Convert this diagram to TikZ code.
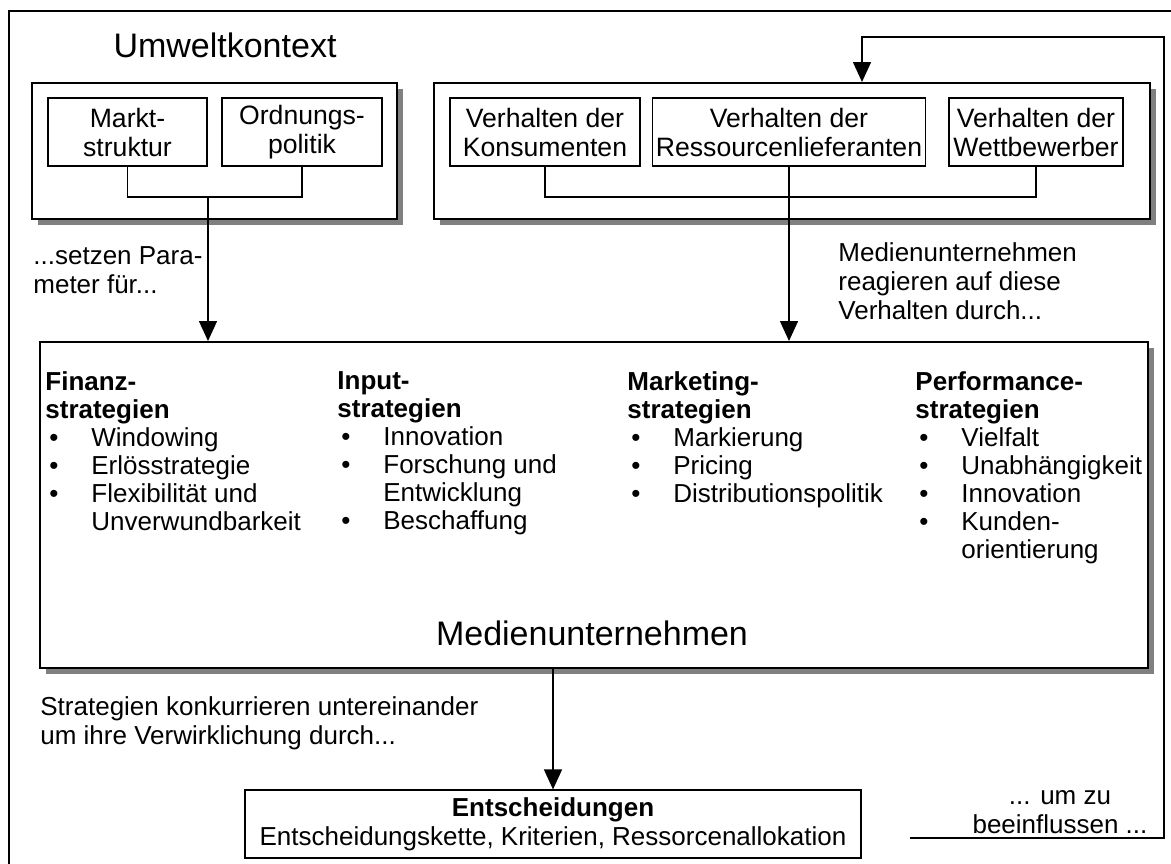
\documentclass[tikz,border=0pt]{standalone}
\usepackage{fontspec}
\setmainfont{Liberation Sans}
\usetikzlibrary{positioning, arrows.meta, shadows}

\newcommand{\bul}{\makebox[23pt][l]{\hspace{2pt}\textbullet}}
\newcommand{\ind}{\hspace*{23pt}}

\begin{document}
\begin{tikzpicture}[
x=0.5pt, y=-0.5pt,
>={Triangle[length=10pt, width=9pt]},
every node/.style={font=\fontsize{13}{14.5}\selectfont},
bigtitle/.style={font=\fontsize{17}{20}\selectfont},
envbox/.style={draw, line width=1pt, fill=white, drop shadow={shadow xshift=3pt, shadow yshift=-3pt, fill=gray, opacity=1}},
smallbox/.style={draw, line width=0.6pt, fill=white, align=center, minimum height=34pt, inner sep=1pt, font=\fontsize{13.3}{14.5}\selectfont},
entbox/.style={draw, line width=0.6pt, fill=white, align=center, inner sep=1pt},
column/.style={anchor=north west, align=left, inner sep=0pt, font=\fontsize{13}{14}\selectfont},
note/.style={anchor=west, align=left, inner sep=0pt},
conn/.style={line width=0.75pt}
]

\clip (0,0) rectangle (1171,863);

% frame
\draw[line width=1pt] (9,900) -- (9,11) -- (1200,11);

% Umweltkontext
\node[bigtitle] (umwelt) at (225,45) {Umweltkontext};
\node[envbox, minimum width=182.5pt, minimum height=68pt] (umwL) at (214.5,151) {};
\node[envbox, minimum width=358pt, minimum height=68pt] (umwR) at (792,151) {};

\node[smallbox, minimum width=79.5pt] (markt) at (127.5,132) {Markt-\\struktur};
\node[smallbox, minimum width=80pt] (ordnung) at (302,132) {Ordnungs-\\politik};

\node[smallbox, minimum width=95pt] (konsum) at (545,132) {Verhalten der\\Konsumenten};
\node[smallbox, minimum width=136.5pt] (ressourcen) at (789,132) {Verhalten der\\Ressourcenlieferanten};
\node[smallbox, minimum width=87pt] (wettbew) at (1036,132) {Verhalten der\\Wettbewerber};

% Medienunternehmen
\node[envbox, minimum width=554pt, minimum height=163pt] (medien) at (594,505) {};
\node[bigtitle] (medlabel) at (592,633) {Medienunternehmen};

\node[column] (finanz) at (45,371) {\textbf{Finanz-}\\\textbf{strategien}\\
  \bul Windowing\\\bul Erlösstrategie\\\bul Flexibilität und\\\ind Unverwundbarkeit};
\node[column] (input) at (337,371) {\textbf{Input-}\\\textbf{strategien}\\
  \bul Innovation\\\bul Forschung und\\\ind Entwicklung\\\bul Beschaffung};
\node[column] (marketing) at (627,371) {\textbf{Marketing-}\\\textbf{strategien}\\
  \bul Markierung\\\bul Pricing\\\bul Distributionspolitik};
\node[column] (perform) at (915,371) {\textbf{Performance-}\\\textbf{strategien}\\
  \bul Vielfalt\\\bul Unabhängigkeit\\\bul Innovation\\\bul Kunden-\\\ind orientierung};

% Entscheidungen
\node[entbox, minimum width=308pt, minimum height=34pt] (entsch) at (553,824)
  {\textbf{Entscheidungen}\\Entscheidungskette, Kriterien, Ressorcenallokation};

% notes
\node[note] (setzen) at (33,270) {...setzen Para-\\meter für...};
\node[note] (reagieren) at (838,281) {Medienunternehmen\\reagieren auf diese\\Verhalten durch...};
\node[note] (konkurr) at (40,723) {Strategien konkurrieren untereinander\\um ihre Verwirklichung durch...};
\node[align=center] (einfluss) at (1060,812) {... um zu\\beeinflussen ...};

% connectors
\coordinate (joinL) at (208,197);
\coordinate (joinR) at (789,197);
\draw[conn] (markt.south) |- (joinL) -| (ordnung.south);
\draw[conn, ->] (joinL) -- (joinL |- medien.north);
\draw[conn] (konsum.south) |- (joinR) -| (wettbew.south);
\draw[conn, ->] (ressourcen.south) -- (ressourcen.south |- medien.north);
\draw[conn, ->] (medien.south -| entsch.north) -- (entsch.north);

% feedback
\coordinate (fbstart) at (910,838);
\coordinate (fbcorner) at (1164,37);
\draw[conn, ->] (fbstart) -| (fbcorner) -| ([xshift=35pt]umwR.north);

\end{tikzpicture}
\end{document}
